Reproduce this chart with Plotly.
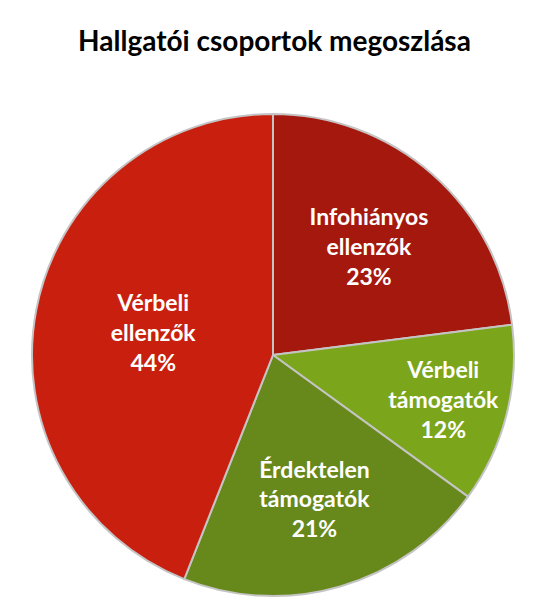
import plotly.graph_objects as go

labels = ["Infohiányos<br>ellenzők", "Vérbeli<br>támogatók", "Érdektelen<br>támogatók", "Vérbeli<br>ellenzők"]
values = [23, 12, 21, 44]
colors = ["#A5180E", "#7BA51B", "#67881A", "#C81F0E"]

fig = go.Figure(go.Pie(
    labels=labels,
    values=values,
    sort=False,
    direction="clockwise",
    rotation=0,
    marker=dict(colors=colors, line=dict(color="#C4C4C4", width=2)),
    texttemplate="%{label}<br>%{value}%",
    textposition="inside",
    insidetextorientation="horizontal",
    textfont=dict(family="Lato", size=23, color="white", weight="bold"),
    hoverinfo="label+percent",
    showlegend=False,
))

fig.update_layout(
    width=533, height=612,
    margin=dict(l=20, r=23, t=106, b=24),
    paper_bgcolor="white",
    uniformtext=dict(minsize=23, mode="show"),
    title=dict(
        text="<b>Hallgatói csoportok megoszlása</b>",
        x=0.5, xanchor="center", y=0.945, yanchor="middle",
        font=dict(family="Lato", size=28, color="black"),
    ),
)

fig.write_html("out.html")
